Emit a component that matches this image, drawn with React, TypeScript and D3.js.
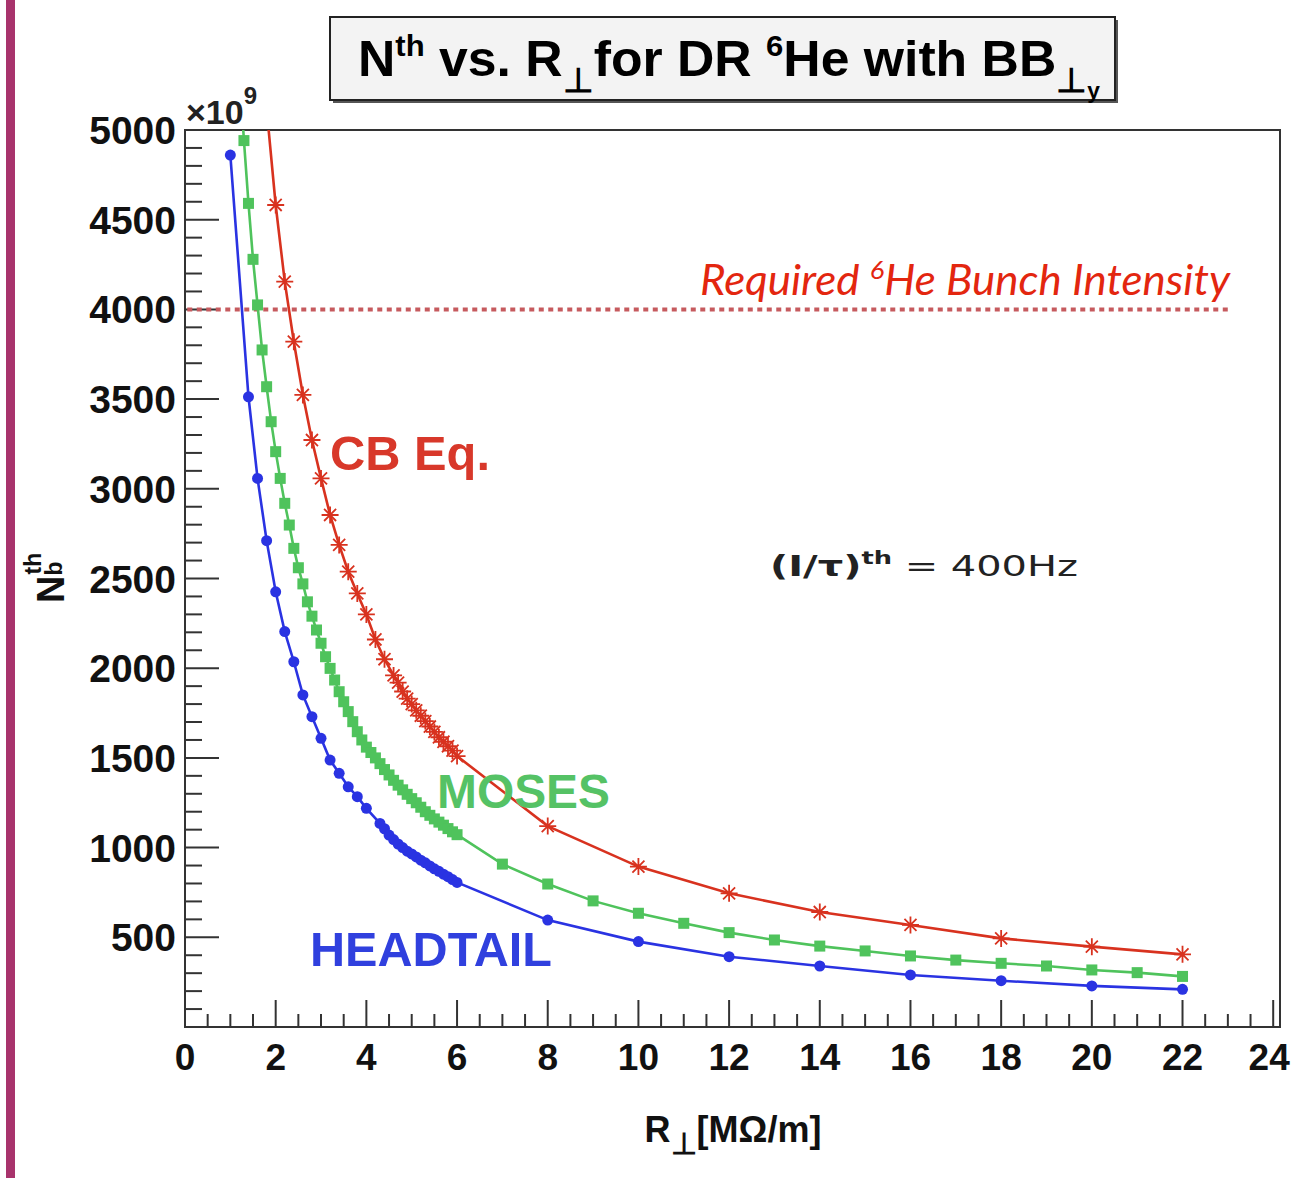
import React from "react";
import * as d3 from "d3";

// ---- data ----
const cbX = [1.8, 2.0, 2.2, 2.4, 2.6, 2.8, 3.0, 3.2, 3.4, 3.6, 3.8, 4.0, 4.2, 4.4, 4.6, 4.7, 4.8, 4.9, 5.0, 5.1, 5.2, 5.3, 5.4, 5.5, 5.6, 5.7, 5.8, 5.9, 6.0, 8, 10, 12, 14, 16, 18, 20, 22];
const cbY = [5120, 4582, 4155, 3820, 3523, 3272, 3058, 2854, 2687, 2538, 2417, 2300, 2160, 2050, 1960, 1920, 1870, 1830, 1800, 1765, 1735, 1705, 1675, 1645, 1615, 1590, 1565, 1540, 1510, 1120, 894, 745, 641, 569, 494, 448, 405];

const mosesX = [1.2, 1.3, 1.4, 1.5, 1.6, 1.7, 1.8, 1.9, 2.0, 2.1, 2.2, 2.3, 2.4, 2.5, 2.6, 2.7, 2.8, 2.9, 3.0, 3.1, 3.2, 3.3, 3.4, 3.5, 3.6, 3.7, 3.8, 3.9, 4.0, 4.1, 4.2, 4.3, 4.4, 4.5, 4.6, 4.7, 4.8, 4.9, 5.0, 5.1, 5.2, 5.3, 5.4, 5.5, 5.6, 5.7, 5.8, 5.9, 6.0, 7, 8, 9, 10, 11, 12, 13, 14, 15, 16, 17, 18, 19, 20, 21, 22];
const mosesY = [5340, 4941, 4591, 4279, 4025, 3774, 3569, 3374, 3207, 3058, 2919, 2798, 2668, 2560, 2470, 2370, 2290, 2213, 2139, 2064, 1999, 1934, 1869, 1813, 1758, 1702, 1646, 1600, 1560, 1530, 1500, 1468, 1435, 1405, 1375, 1348, 1322, 1297, 1273, 1250, 1225, 1200, 1180, 1160, 1142, 1125, 1106, 1088, 1072, 908, 797, 703, 634, 578, 526, 485, 451, 424, 396, 373, 355, 340, 318, 303, 282];

const headX = [1.0, 1.4, 1.6, 1.8, 2.0, 2.2, 2.4, 2.6, 2.8, 3.0, 3.2, 3.4, 3.6, 3.8, 4.0, 4.3, 4.4, 4.5, 4.6, 4.7, 4.8, 4.9, 5.0, 5.1, 5.2, 5.3, 5.4, 5.5, 5.6, 5.7, 5.8, 5.9, 6.0, 8, 10, 12, 14, 16, 18, 20, 22];
const headY = [4860, 3513, 3058, 2711, 2426, 2204, 2036, 1851, 1730, 1609, 1488, 1414, 1339, 1284, 1219, 1135, 1105, 1070, 1045, 1020, 1000, 980, 965, 948, 930, 915, 898, 882, 868, 852, 838, 822, 806, 596, 476, 392, 340, 290, 258, 229, 210];

const requiredIntensity = 4000;
const xTickLabels = [0, 2, 4, 6, 8, 10, 12, 14, 16, 18, 20, 22, 24];
const yTickLabels = [500, 1000, 1500, 2000, 2500, 3000, 3500, 4000, 4500, 5000];

const RED = "#d8321f";
const GREEN = "#4fc35c";
const BLUE = "#2a33e2";

const FONT = "'Liberation Sans', Arial, Helvetica, sans-serif";

export default function App() {
  const left = 185, right = 1280, top = 130, bottom = 1027;
  const x = d3.scaleLinear().domain([0, 24.15]).range([left, right]);
  const y = d3.scaleLinear().domain([0, 5000]).range([bottom, top]);

  const line = d3.line<[number, number]>().x((d) => x(d[0])).y((d) => y(d[1]));
  const pts = (xs: number[], ys: number[]) => xs.map((v, i) => [v, ys[i]] as [number, number]);

  const cb = pts(cbX, cbY);
  const mo = pts(mosesX, mosesY);
  const ht = pts(headX, headY);

  const yMinor = d3.range(100, 5000, 100);
  const xMinor = d3.range(0.5, 24.1, 0.5);

  const star = (cx: number, cy: number, s: number) => {
    const d = s * 0.7071;
    return `M${cx - s},${cy}L${cx + s},${cy}M${cx},${cy - s}L${cx},${cy + s}M${cx - d},${cy - d}L${cx + d},${cy + d}M${cx - d},${cy + d}L${cx + d},${cy - d}`;
  };

  return (
    <svg
      width={1299}
      height={1178}
      style={{ position: "fixed", left: 0, top: 0, background: "#fff" }}
      fontFamily={FONT}
    >
      <defs>
        <clipPath id="frame">
          <rect x={left} y={top} width={right - left} height={bottom - top} />
        </clipPath>
      </defs>
      <rect x={0} y={0} width={1299} height={1178} fill="#fff" />
      {/* left maroon bar */}
      <rect x={6} y={0} width={9} height={1178} fill="#a8336c" />

      {/* title box */}
      <rect x={333} y={20} width={785} height={83} fill="#555" />
      <rect x={330} y={17} width={785} height={83} fill="#f3f3f3" stroke="#222" strokeWidth={2} />
      <text x={358} y={76} fontSize={50} fontWeight="bold" textLength={742} lengthAdjust="spacingAndGlyphs" fill="#000">
        N<tspan fontSize={30} dy={-20}>th</tspan>
        <tspan dy={20}> vs. R</tspan>
        <tspan fontSize={34} dy={16}>⊥</tspan>
        <tspan dy={-16}>for DR </tspan>
        <tspan fontSize={30} dy={-20}>6</tspan>
        <tspan dy={20}>He with BB</tspan>
        <tspan fontSize={34} dy={16}>⊥</tspan>
        <tspan fontSize={22} dy={6}>y</tspan>
      </text>

      {/* frame */}
      <rect x={left} y={top} width={right - left} height={bottom - top} fill="#fff" stroke="#333" strokeWidth={2} />

      {/* y ticks */}
      {yMinor.map((v) => (
        <line key={"ym" + v} x1={left} x2={left + (v % 500 === 0 ? 34 : 17)} y1={y(v)} y2={y(v)} stroke="#333" strokeWidth={2} />
      ))}
      {/* x ticks */}
      {xMinor.map((v) => {
        const major = Math.abs(v / 2 - Math.round(v / 2)) < 1e-6;
        return <line key={"xm" + v} x1={x(v)} x2={x(v)} y1={bottom} y2={bottom - (major ? 27 : 13)} stroke="#333" strokeWidth={2} />;
      })}

      {/* y tick labels */}
      {yTickLabels.map((v) => (
        <text key={"yl" + v} x={176} y={y(v) + 14} fontSize={39} fontWeight="bold" textAnchor="end" fill="#111">
          {v}
        </text>
      ))}
      {/* x tick labels */}
      {xTickLabels.map((v) => (
        <text key={"xl" + v} x={v === 24 ? x(v) - 4 : x(v)} y={1070} fontSize={37} fontWeight="bold" textAnchor="middle" fill="#111">
          {v}
        </text>
      ))}

      {/* exponent */}
      <text x={186} y={124} fontSize={34} fontWeight="bold" fill="#222">
        ×10<tspan fontSize={24} dy={-20}>9</tspan>
      </text>

      {/* axis titles */}
      <text x={733} y={1142} fontSize={36} fontWeight="bold" textAnchor="middle" fill="#111">
        R<tspan fontSize={30} dy={12}>⊥</tspan>
        <tspan dy={-12}>[MΩ/m]</tspan>
      </text>
      <text transform="translate(64,603) rotate(-90)" fontSize={38} fontWeight="bold" fill="#111">
        N<tspan fontSize={23} dy={-2}>b</tspan>
        <tspan fontSize={23} dx={-13} dy={-21}>th</tspan>
      </text>

      {/* required intensity line */}
      <line x1={x(0.05)} x2={1228} y1={y(requiredIntensity)} y2={y(requiredIntensity)} stroke="#c65a5e" strokeWidth={4} strokeDasharray="5,4.5" />
      <text x={700} y={295} fontSize={42} fontStyle="italic" fill="#e3260f" fontFamily="Lato, 'Open Sans', sans-serif" textLength={530} lengthAdjust="spacingAndGlyphs">
        Required <tspan fontSize={26} dy={-16}>6</tspan>
        <tspan dy={16}>He Bunch Intensity</tspan>
      </text>

      {/* curves */}
      <g clipPath="url(#frame)">
        <path d={line(cb) || ""} fill="none" stroke={RED} strokeWidth={2.6} />
        <path d={line(mo) || ""} fill="none" stroke={GREEN} strokeWidth={2.6} />
        <path d={line(ht) || ""} fill="none" stroke={BLUE} strokeWidth={2.6} />
        {cb.map((p, i) => (
          <path key={"c" + i} d={star(x(p[0]), y(p[1]), 8.5)} stroke={RED} strokeWidth={1.8} fill="none" />
        ))}
        {mo.map((p, i) => (
          <rect key={"m" + i} x={x(p[0]) - 5.5} y={y(p[1]) - 5.5} width={11} height={11} fill={GREEN} />
        ))}
        {ht.map((p, i) => (
          <circle key={"h" + i} cx={x(p[0])} cy={y(p[1])} r={5.5} fill={BLUE} />
        ))}
      </g>

      {/* labels */}
      <text x={330} y={470} fontSize={48} fontWeight="bold" fill="#d8382a" textLength={160} lengthAdjust="spacingAndGlyphs">
        CB Eq.
      </text>
      <text x={437} y={808} fontSize={48} fontWeight="bold" fill="#55c265" textLength={173} lengthAdjust="spacingAndGlyphs">
        MOSES
      </text>
      <text x={310} y={966} fontSize={48} fontWeight="bold" fill="#3040de" textLength={242} lengthAdjust="spacingAndGlyphs">
        HEADTAIL
      </text>

      <text x={770} y={576} fontSize={28} fontWeight="bold" fill="#222" fontFamily="'DejaVu Sans', sans-serif" textLength={308} lengthAdjust="spacingAndGlyphs">
        (I/τ)<tspan fontSize={18} dy={-12}>th</tspan>
        <tspan dy={12} fontWeight="normal"> = 400Hz</tspan>
      </text>
    </svg>
  );
}
